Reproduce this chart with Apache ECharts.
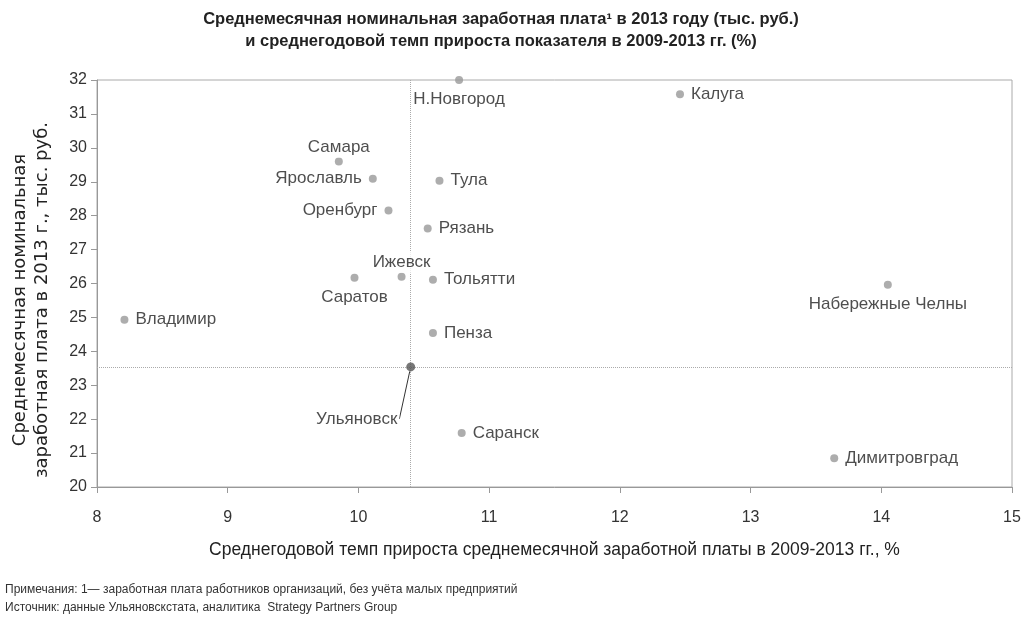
<!DOCTYPE html>
<html><head><meta charset="utf-8">
<script src="https://cdn.jsdelivr.net/npm/echarts@6/dist/echarts.min.js"></script>
<style>html,body{margin:0;padding:0;background:#fff}#c{width:1024px;height:619px}</style>
</head><body><div id="c"></div>
<script>
const cities = ['Н.Новгород','Калуга','Самара','Ярославль','Тула','Оренбург','Рязань','Саратов','Ижевск','Тольятти','Набережные Челны','Владимир','Пенза','Ульяновск','Саранск','Димитровград'];
const growth = [10.77, 12.46, 9.85, 10.11, 10.62, 10.23, 10.53, 9.97, 10.33, 10.57, 14.05, 8.21, 10.57, 10.40, 10.79, 13.64];
const wage   = [32.0, 31.58, 29.6, 29.09, 29.03, 28.15, 27.62, 26.17, 26.2, 26.11, 25.96, 24.93, 24.54, 23.54, 21.59, 20.85];
const xTicks = [8, 9, 10, 11, 12, 13, 14, 15];
const yTicks = [20, 21, 22, 23, 24, 25, 26, 27, 28, 29, 30, 31, 32];
const focusCity = 'Ульяновск';

const labelPos = {'Н.Новгород':'bottom','Калуга':'right','Самара':'top','Ярославль':'left','Тула':'right','Оренбург':'left','Рязань':'right','Саратов':'bottom','Ижевск':'top','Тольятти':'right','Набережные Челны':'bottom','Владимир':'right','Пенза':'right','Саранск':'right','Димитровград':'right'};

const fi = cities.indexOf(focusCity);
const others = cities.map((c,i)=>({name:c, value:[growth[i], wage[i]], label:{position:labelPos[c], distance: labelPos[c]==='top' ? 0 : 5}})).filter(d=>d.name!==focusCity);
const sans = '"Liberation Sans", Arial, sans-serif';

const chart = echarts.init(document.getElementById('c'), null, {renderer:'canvas'});
chart.setOption({
  animation:false,
  backgroundColor:'#fff',
  title:{
    text:'Среднемесячная номинальная заработная плата¹ в 2013 году (тыс. руб.)\nи среднегодовой темп прироста показателя в 2009-2013 гг. (%)',
    left:496, top:3, textAlign:'center',
    textStyle:{fontFamily:sans, fontSize:16.5, fontWeight:'bold', color:'#222', lineHeight:22}
  },
  graphic:[
    {type:'text', left:5, top:584, style:{text:'Примечания: 1— заработная плата работников организаций, без учёта малых предприятий', fontFamily:sans, fontSize:12, fill:'#333'}},
    {type:'text', left:5, top:602, style:{text:'Источник: данные Ульяновскстата, аналитика  Strategy Partners Group', fontFamily:sans, fontSize:12, fill:'#333'}},
    {type:'text', x:31, y:300, rotation:Math.PI/2, style:{text:'Среднемесячная номинальная\nзаработная плата в 2013 г., тыс. руб.', fontFamily:'"DejaVu Sans", sans-serif', fontSize:18, fill:'#222', align:'center', verticalAlign:'middle', lineHeight:22}}
  ],
  grid:{left:97, right:12, top:80, bottom:132, show:true, borderColor:'#aaa', borderWidth:1},
  xAxis:{
    type:'value', min:xTicks[0], max:xTicks[xTicks.length-1], interval:1,
    name:'Среднегодовой темп прироста среднемесячной заработной платы в 2009-2013 гг., %',
    nameLocation:'middle', nameGap:54,
    nameTextStyle:{fontFamily:sans, fontSize:17.5, color:'#222'},
    axisLine:{show:true, lineStyle:{color:'#999'}},
    axisTick:{show:true, length:6, lineStyle:{color:'#999'}},
    axisLabel:{fontFamily:sans, fontSize:16, color:'#333', margin:23},
    splitLine:{show:false}
  },
  yAxis:{
    type:'value', min:yTicks[0], max:yTicks[yTicks.length-1], interval:1,
    axisLine:{show:true, lineStyle:{color:'#999'}},
    axisTick:{show:true, length:6, lineStyle:{color:'#999'}},
    axisLabel:{fontFamily:sans, fontSize:16, color:'#333', margin:10},
    splitLine:{show:false}
  },
  series:[
    {
      type:'scatter', data:[], z:1,
      markLine:{
        silent:true, symbol:'none', animation:false, z:1,
        lineStyle:{type:'dotted', color:'#aaa', width:1},
        label:{show:false},
        data:[{xAxis:growth[fi]},{yAxis:wage[fi]}]
      }
    },
    {
      type:'scatter', symbolSize:8, itemStyle:{color:'#999'},
      data:others,
      label:{show:true, formatter:'{b}', fontFamily:sans, fontSize:17, color:'#222', distance:5, backgroundColor:'#fff', padding:[2,2]},
      z:5
    },
    {
      type:'scatter', symbolSize:9, itemStyle:{color:'#555'},
      data:[{name:focusCity, value:[growth[fi], wage[fi]]}],
      label:{show:true, formatter:'{b}', position:'bottom', fontFamily:sans, fontSize:17, color:'#222', backgroundColor:'#fff', padding:[2,2]},
      labelLayout:{dx:-54, dy:32},
      labelLine:{show:true, lineStyle:{color:'#333', width:1}},
      z:6
    }
  ]
});
</script></body></html>
